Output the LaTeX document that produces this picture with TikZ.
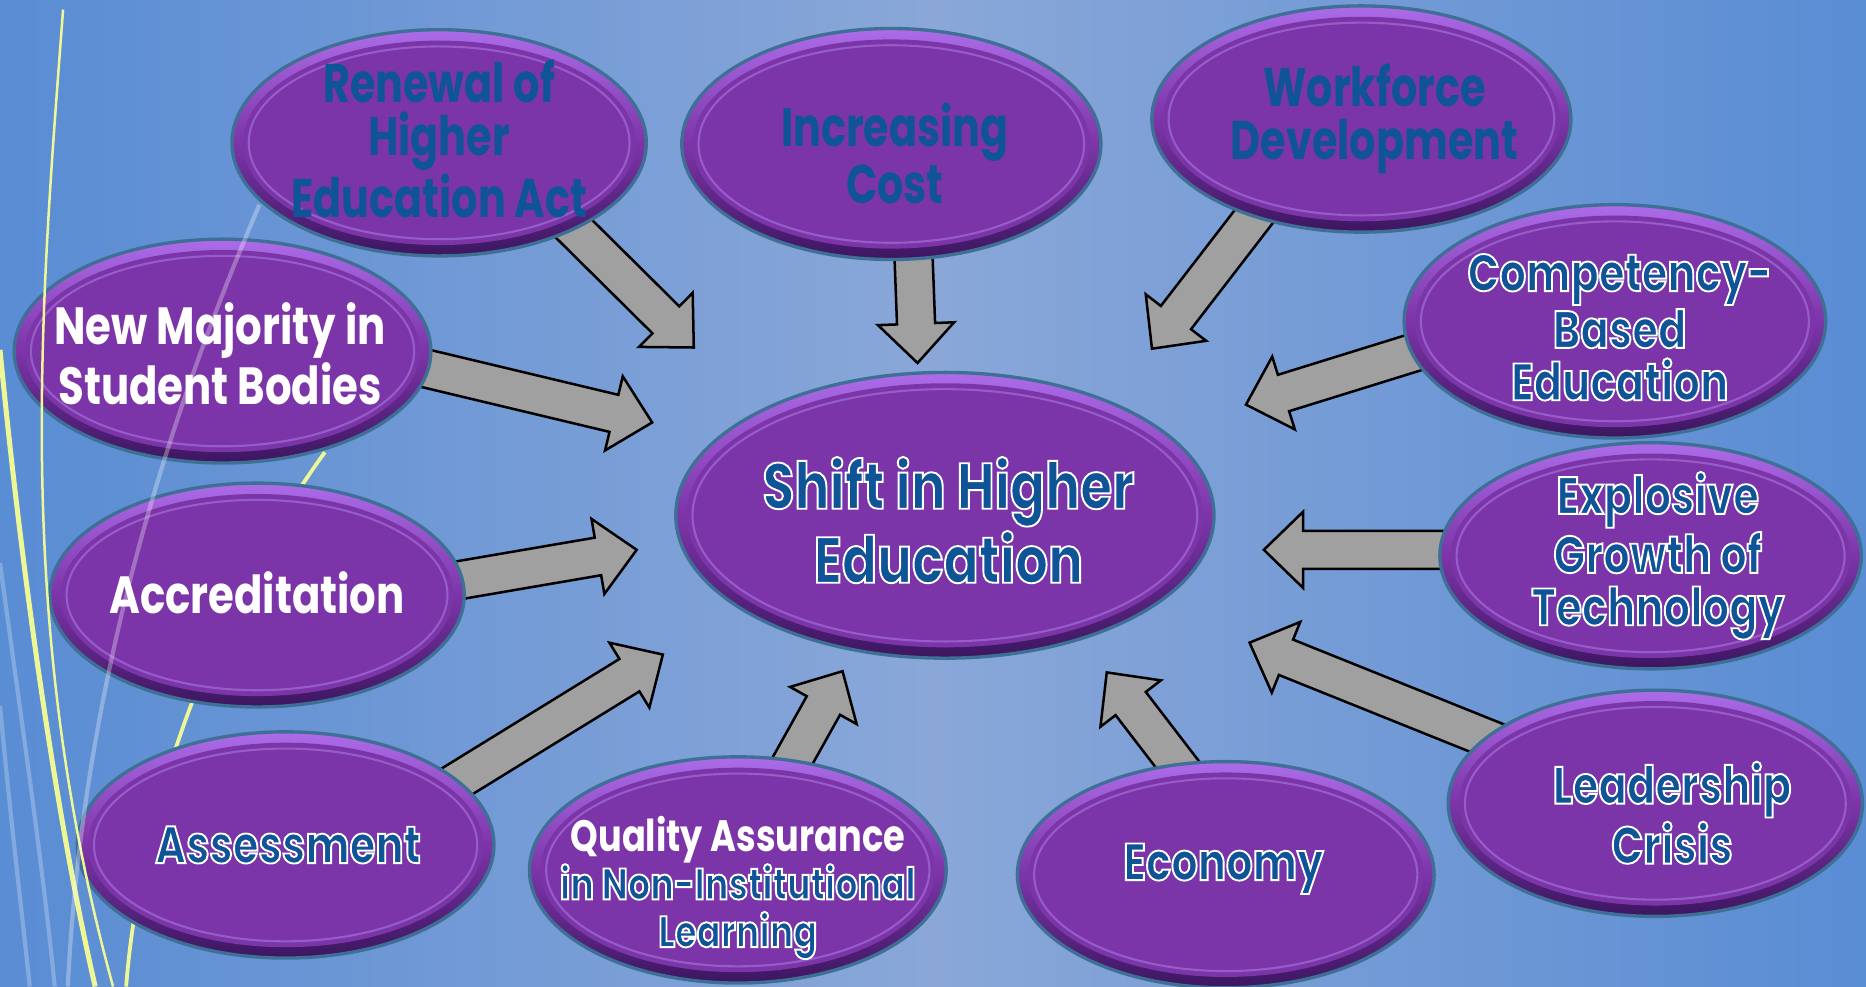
\documentclass[tikz,border=0pt]{standalone}
\usepackage{fontspec}
\setmainfont{Poppins}
\newfontfamily\slimfont[FakeStretch=0.8]{Poppins}
\newfontfamily\tightfont[FakeStretch=0.76]{Poppins}
\usetikzlibrary{shapes.geometric,calc}

\definecolor{plum}{RGB}{124,53,168}
\definecolor{rimtop}{RGB}{172,108,232}
\definecolor{rimbot}{RGB}{60,22,96}
\definecolor{rimedge}{RGB}{62,112,150}
\definecolor{ringline}{RGB}{150,92,200}
\definecolor{inkblue}{RGB}{14,84,150}
\definecolor{bgedge}{RGB}{40,114,207}
\definecolor{bgmid}{RGB}{138,167,216}
\definecolor{arrowgray}{RGB}{160,160,160}
\definecolor{streak}{RGB}{238,247,150}

\pgfdeclarehorizontalshading{backdrop}{100bp}{color(0bp)=(bgedge); color(50bp)=(bgmid); color(100bp)=(bgedge)}
\pgfdeclarelayer{sky}
\pgfdeclarelayer{arrows}
\pgfsetlayers{sky,arrows,main}

% blue letters with a white rim
\newcommand{\rimtext}[1]{{\bfseries\color{inkblue}\special{pdf:literal direct q 1 1 1 RG 0.45 w 2 Tr}#1\special{pdf:literal direct Q}}}

% block arrow: source node, border angle, tip
\newcommand{\fatarrow}[3]{%
  \coordinate (tail) at ($(#1)!0.8!(#1.#2)$);
  \coordinate (base) at ($(#3)!0.33cm!(tail)$);
  \draw[blockarrow] ($(tail)!0.16cm!90:(#3)$) -- ($(base)!0.16cm!90:(#3)$)
    -- ($(base)!0.32cm!90:(#3)$) -- (#3) -- ($(base)!0.32cm!-90:(#3)$)
    -- ($(base)!0.16cm!-90:(#3)$) -- ($(tail)!0.16cm!-90:(#3)$) -- cycle;}

\tikzset{bubble/.style={ellipse, draw=rimedge, line width=0.8pt,
      top color=rimtop, bottom color=rimbot, middle color=plum, inner sep=0pt,
      minimum width=3.5cm, minimum height=1.9cm,
      path picture={
        \fill[plum] let \p1=($(path picture bounding box.north east)-(path picture bounding box.center)$)
          in (path picture bounding box.center) ellipse ({\x1-2.6pt} and {\y1-2.6pt});
        \draw[ringline, line width=0.5pt] let \p1=($(path picture bounding box.north east)-(path picture bounding box.center)$)
          in (path picture bounding box.center) ellipse ({\x1-4pt} and {\y1-4pt});
      }},
    caption/.style={align=center, inner sep=0pt},
    darkcap/.style={caption, text=inkblue, font=\tightfont\bfseries\fontsize{13}{12.5}\selectfont},
    rimcap/.style={caption, font=\slimfont\fontsize{12.5}{12.5}\selectfont},
    whitecap/.style={caption, text=white, font=\slimfont\bfseries\fontsize{12.5}{12.5}\selectfont},
    blockarrow/.style={fill=arrowgray, draw=black, line width=0.6pt, line join=miter},
    }

\begin{document}
\begin{tikzpicture}[x=0.01cm, y=-0.01cm]
\useasboundingbox (0,0) rectangle (1568,829);
\begin{pgfonlayer}{sky}
\shade[shading=backdrop] (0,0) rectangle (1568,829);
\draw[streak, line width=0.9pt] (273,380) .. controls (200,480) and (120,650) .. (106,829);
\draw[white, opacity=0.25, line width=1pt] (0,473) .. controls (20,620) and (35,720) .. (46,829);
\draw[white, opacity=0.25, line width=1pt] (0,593) .. controls (10,700) and (20,780) .. (25,829);
\end{pgfonlayer}

\node[bubble, minimum width=4.52cm, minimum height=2.4cm] (shift) at (794,433) {};
\node[bubble, minimum width=3.48cm] (renewal) at (369,120) {};
\node[bubble, minimum width=3.52cm, minimum height=1.94cm] (cost) at (749,121) {};
\node[bubble, minimum width=3.52cm] (workforce) at (1144,100) {};
\node[bubble, minimum width=3.54cm, minimum height=1.96cm] (competency) at (1357,270) {};
\node[bubble, minimum width=3.54cm] (explosive) at (1387,467) {};
\node[bubble, minimum width=3.48cm] (leadership) at (1391,675) {};
\node[bubble] (economy) at (1030,735) {};
\node[bubble] (quality) at (620,731) {};
\node[bubble] (assessment) at (240,710) {};
\node[bubble, minimum width=3.48cm, minimum height=1.88cm] (accred) at (216,500) {};
\node[bubble, minimum height=1.88cm] (majority) at (187,295) {};

\node[rimcap, font=\slimfont\fontsize{15.5}{15.6}\selectfont] (shift-t) at (797,437) {\rimtext{Shift in Higher}\\\rimtext{Education}};
\node[darkcap] (renewal-t) at (369,117) {Renewal of\\Higher\\Education Act};
\node[darkcap] (cost-t) at (752,129) {Increasing\\Cost};
\node[darkcap] (workforce-t) at (1155,100) {Workforce\\Development};
\node[rimcap] (competency-t) at (1361,275) {\rimtext{Competency-}\\\rimtext{Based}\\\rimtext{Education}};
\node[rimcap] (explosive-t) at (1393,467) {\rimtext{Explosive}\\\rimtext{Growth of}\\\rimtext{Technology}};
\node[rimcap] (leadership-t) at (1405,683) {\rimtext{Leadership}\\\rimtext{Crisis}};
\node[rimcap] (economy-t) at (1028,730) {\rimtext{Economy}};
\node[caption, font=\slimfont\fontsize{10.5}{11.4}\selectfont] (quality-t) at (620,746)
  {\textcolor{white}{\bfseries Quality Assurance}\\\rimtext{in Non-Institutional}\\\rimtext{Learning}};
\node[rimcap] (assessment-t) at (242,710) {\rimtext{Assessment}};
\node[whitecap] (accred-t) at (216,498) {Accreditation};
\node[whitecap] (majority-t) at (185,297) {New Majority in\\Student Bodies};

\coordinate (renewal-tip) at (583,292);
\coordinate (cost-tip) at (771,305);
\coordinate (workforce-tip) at (968,293);
\coordinate (competency-tip) at (1047,340);
\coordinate (explosive-tip) at (1062,462);
\coordinate (leadership-tip) at (1050,540);
\coordinate (economy-tip) at (930,565);
\coordinate (quality-tip) at (708,564);
\coordinate (assessment-tip) at (557,550);
\coordinate (accred-tip) at (535,462);
\coordinate (majority-tip) at (548,355);

\begin{pgfonlayer}{arrows}
\fatarrow{renewal}{-30}{renewal-tip}
\fatarrow{cost}{-77}{cost-tip}
\fatarrow{workforce}{-140}{workforce-tip}
\fatarrow{competency}{-173}{competency-tip}
\fatarrow{explosive}{178}{explosive-tip}
\fatarrow{leadership}{159}{leadership-tip}
\fatarrow{economy}{110}{economy-tip}
\fatarrow{quality}{64}{quality-tip}
\fatarrow{assessment}{18}{assessment-tip}
\fatarrow{accred}{3}{accred-tip}
\fatarrow{majority}{-3}{majority-tip}
\end{pgfonlayer}

% streaks over the left bubbles
\draw[streak, line width=0.6pt] (53,8) .. controls (35,250) and (10,520) .. (95,829);
\draw[streak, line width=1.2pt] (0,294) .. controls (20,500) and (50,700) .. (80,829);
\draw[white, opacity=0.3, line width=1pt] (218,172) .. controls (150,330) and (70,560) .. (57,829);
\end{tikzpicture}
\end{document}
